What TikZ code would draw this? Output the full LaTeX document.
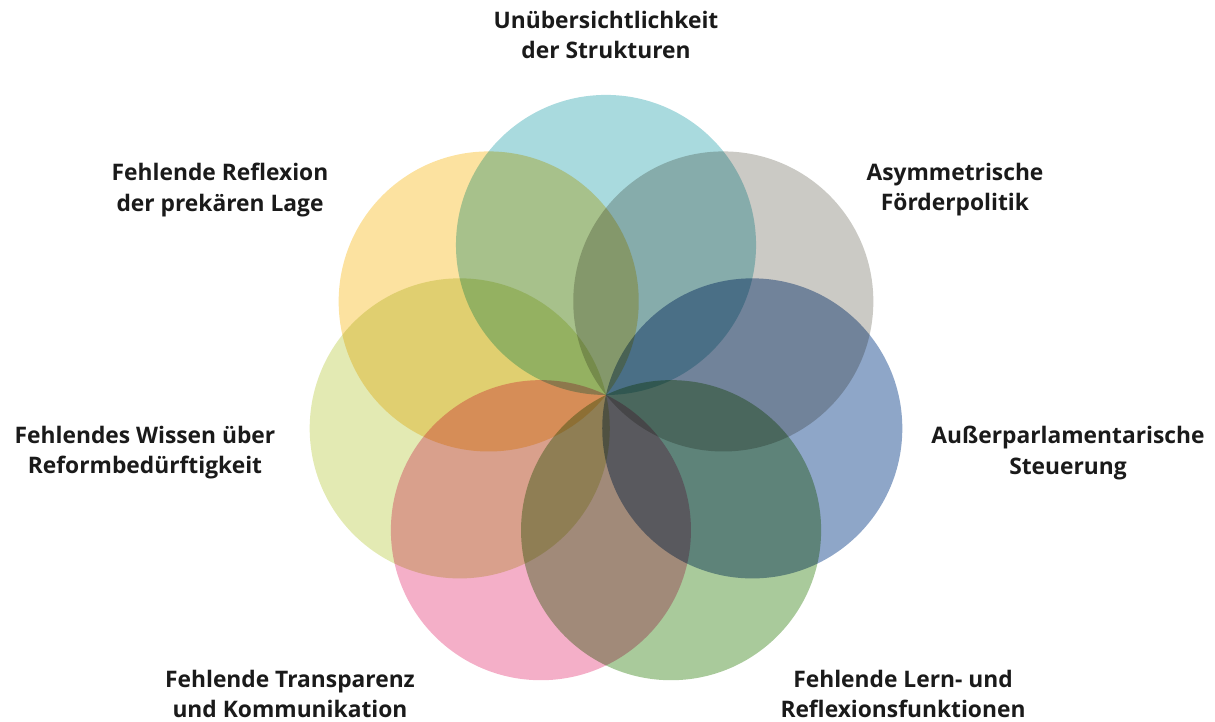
\documentclass[tikz,border=0pt]{standalone}
\usepackage{fontspec}
\setmainfont{Open Sans}
\usetikzlibrary{calc}

\definecolor{cTeal}{HTML}{A9DADE}
\definecolor{cGrau}{HTML}{CBCAC5}
\definecolor{cBlau}{HTML}{8EA6C8}
\definecolor{cGruen}{HTML}{A9CA9B}
\definecolor{cRosa}{HTML}{F4AFC8}
\definecolor{cHell}{HTML}{E3EAB3}
\definecolor{cGelb}{HTML}{FCE2A0}
\definecolor{cText}{HTML}{1A1A1A}

\tikzset{
	kreis/.style = {fill=#1, draw=none},
	label/.style = {align=center, text=cText, font=\bfseries\fontsize{16.2}{21.4}\selectfont, inner sep=0pt}
}

\begin{document}
\begin{tikzpicture}[x=0.025cm, y=0.025cm]
%
%Rahmen
\useasboundingbox (0,0) rectangle (1215,722);

\def \r {3.75cm}

%Mittelpunkt
\coordinate (origin) at (606,327);

%Kreise
\begin{scope}[blend group=multiply]
	\foreach \a/\f [count=\i] in {90/cTeal, 38.57/cGrau, -12.86/cBlau, -64.29/cGruen, -115.71/cRosa, -167.14/cHell, 141.43/cGelb}{
		\coordinate (c\i) at ($(origin)+(\a:\r)$);
		\fill [kreis=\f] (c\i) circle [radius=\r];
	}
\end{scope}

%Beschriftung
	\node [label] (l1) at (606,687) {Unübersichtlichkeit\\der Strukturen};
	\node [label] (l2) at (955,532) {Asymmetrische\\Förderpolitik};
	\node [label] (l3) at (1068,269) {Außerparlamentarische\\Steuerung};
	\node [label] (l4) at (903,28) {Fehlende Lern- und\\Reflexionsfunktionen};
	\node [label] (l5) at (290,28) {Fehlende Transparenz\\und Kommunikation};
	\node [label] (l6) at (145,269) {Fehlendes Wissen über\\Reformbedürftigkeit};
	\node [label] (l7) at (220,532) {Fehlende Reflexion\\der prekären Lage};

\end{tikzpicture}
\end{document}
